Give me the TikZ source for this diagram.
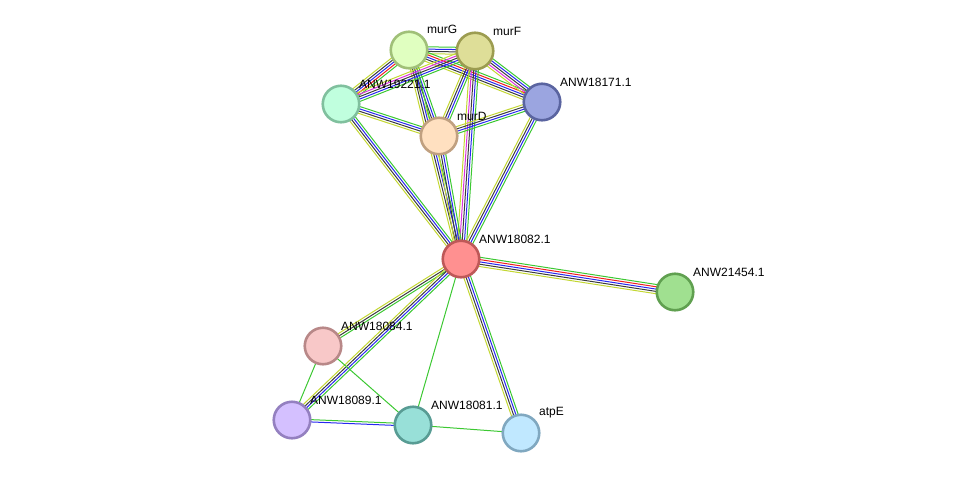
\documentclass[tikz,border=0pt]{standalone}
\usepackage{fontspec}
\setmainfont{Liberation Sans}
\usetikzlibrary{calc}
\definecolor{cgreen}{RGB}{60,200,50}
\definecolor{cred}{RGB}{240,30,30}
\definecolor{cblue}{RGB}{40,40,240}
\definecolor{cblack}{RGB}{60,60,60}
\definecolor{cmag}{RGB}{220,50,220}
\definecolor{cyg}{RGB}{195,215,50}
\definecolor{fmurG}{RGB}{224,255,192}\definecolor{dmurG}{RGB}{160,192,120}
\definecolor{fmurF}{RGB}{222,222,152}\definecolor{dmurF}{RGB}{156,156,80}
\definecolor{fa}{RGB}{192,255,222}\definecolor{da}{RGB}{128,192,158}
\definecolor{fb}{RGB}{155,165,224}\definecolor{db}{RGB}{90,100,160}
\definecolor{fmurD}{RGB}{255,224,192}\definecolor{dmurD}{RGB}{192,160,128}
\definecolor{fc}{RGB}{255,144,144}\definecolor{dc}{RGB}{190,88,88}
\definecolor{fd}{RGB}{160,224,144}\definecolor{dd}{RGB}{96,160,80}
\definecolor{fe}{RGB}{248,200,200}\definecolor{de}{RGB}{184,136,136}
\definecolor{ff}{RGB}{212,192,255}\definecolor{df}{RGB}{148,128,192}
\definecolor{fg}{RGB}{152,224,216}\definecolor{dg}{RGB}{88,156,148}
\definecolor{fh}{RGB}{192,232,255}\definecolor{dh}{RGB}{128,168,192}
\newcommand\medge[3]{%
  \foreach \cc [count=\ii] in {#3} {\xdef\nnn{\ii}}%
  \foreach \cc [count=\ii] in {#3} {%
    \pgfmathsetmacro\off{((\nnn+1)/2-\ii)*2.3}%
    \draw[\cc, line width=1pt] ($(#1)!\off pt!90:(#2)$) -- ($(#2)!\off pt!-90:(#1)$);
  }%
}
\tikzset{
  prot/.style={circle, minimum size=36.5pt, inner sep=0pt, line width=2.6pt, draw=d#1, fill=f#1},
  lab/.style={anchor=west, font=\fontsize{12}{13}\selectfont, inner sep=0pt}
}
\begin{document}
\begin{tikzpicture}[x=1pt,y=-1pt]
\useasboundingbox (0,0) rectangle (976,479);
\coordinate (murG) at (409,50);
\coordinate (murF) at (475,51);
\coordinate (n19221) at (341,104);
\coordinate (n18171) at (542,102);
\coordinate (murD) at (439,136);
\coordinate (n18082) at (461,259);
\coordinate (n21454) at (675,292);
\coordinate (n18084) at (323,346);
\coordinate (n18089) at (292,420);
\coordinate (n18081) at (413,425);
\coordinate (atpE) at (521,433);
% edges
\medge{murG}{murF}{cgreen,cblue,cblack,cyg}
\medge{murG}{n19221}{cgreen,cred,cblue,cblack,cyg}
\medge{murG}{n18171}{cgreen,cred,cblue,cblack,cyg}
\medge{murG}{murD}{cgreen,cblue,cblack,cyg}
\medge{murG}{n18082}{cgreen,cblue,cblack,cyg}
\medge{murF}{n19221}{cgreen,cblue,cblack,cmag,cyg}
\medge{murF}{n18171}{cgreen,cblue,cblack,cmag,cyg}
\medge{murF}{murD}{cgreen,cblue,cblack,cyg}
\medge{murF}{n18082}{cgreen,cblue,cblack,cmag,cyg}
\medge{n19221}{murD}{cgreen,cblue,cblack,cyg}
\medge{n19221}{n18082}{cgreen,cblue,cblack,cyg}
\medge{n18171}{murD}{cgreen,cblue,cblack,cyg}
\medge{n18171}{n18082}{cgreen,cblue,cblack,cyg}
\medge{murD}{n18082}{cgreen,cblue,cblack,cyg}
\medge{n18082}{n21454}{cgreen,cred,cblue,cblack,cyg}
\medge{n18082}{n18084}{cgreen,cblack,cyg}
\medge{n18082}{n18089}{cgreen,cblue,cblack,cyg}
\medge{n18082}{n18081}{cgreen}
\medge{n18082}{atpE}{cgreen,cblue,cblack,cyg}
\medge{n18084}{n18089}{cgreen}
\medge{n18084}{n18081}{cgreen}
\medge{n18089}{n18081}{cgreen,cblue}
\medge{n18081}{atpE}{cgreen}
% nodes
\node[prot=murG] (pmurG) at (murG) {};
\node[prot=murF] (pmurF) at (murF) {};
\node[prot=a] (p19221) at (n19221) {};
\node[prot=b] (p18171) at (n18171) {};
\node[prot=murD] (pmurD) at (murD) {};
\node[prot=c] (p18082) at (n18082) {};
\node[prot=d] (p21454) at (n21454) {};
\node[prot=e] (p18084) at (n18084) {};
\node[prot=f] (p18089) at (n18089) {};
\node[prot=g] (p18081) at (n18081) {};
\node[prot=h] (patpE) at (atpE) {};
% labels
\node[lab] (lmurG) at (427,29) {murG};
\node[lab] (lmurF) at (493,31) {murF};
\node[lab] (l19221) at (359,84) {ANW19221.1};
\node[lab] (l18171) at (560,82) {ANW18171.1};
\node[lab] (lmurD) at (457,116) {murD};
\node[lab] (l18082) at (479,239) {ANW18082.1};
\node[lab] (l21454) at (693,272) {ANW21454.1};
\node[lab] (l18084) at (341,326) {ANW18084.1};
\node[lab] (l18089) at (310,400) {ANW18089.1};
\node[lab] (l18081) at (431,405) {ANW18081.1};
\node[lab] (latpE) at (539,413) {atpE};
\end{tikzpicture}
\end{document}
